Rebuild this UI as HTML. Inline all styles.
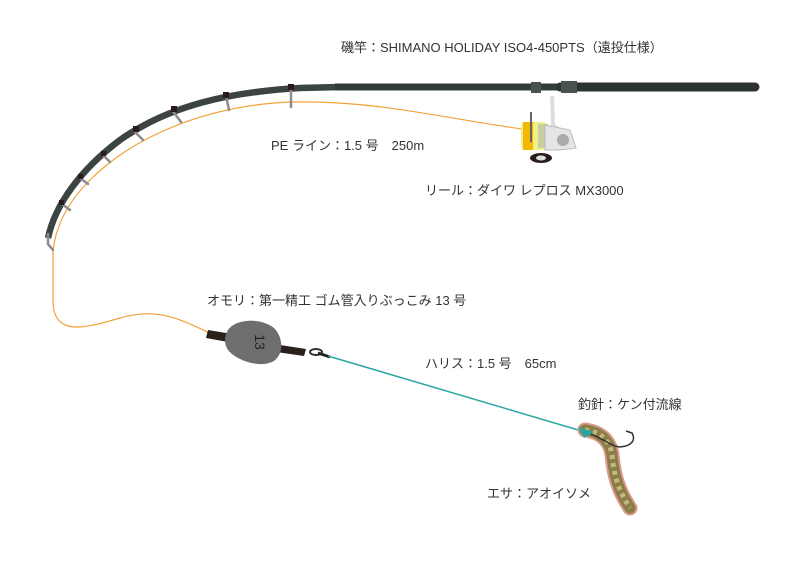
<!DOCTYPE html>
<html><head><meta charset="utf-8"><style>
html,body{margin:0;padding:0;background:#fff;}
svg{display:block}
text{font-family:"Liberation Sans","Noto Sans CJK JP",sans-serif;font-size:13px;fill:#333;}
</style></head><body>
<svg width="800" height="566" viewBox="0 0 800 566" xmlns="http://www.w3.org/2000/svg">
<!-- orange line -->
<path d="M530,130 C450,120 380,100 290,102 C200,106 130,140 90,180 C65,205 55,230 53,252 L53,300 C53,335 80,330 120,318 C160,306 185,322 212,334" fill="none" stroke="#f3a23a" stroke-width="1.2"/>
<!-- rod -->
<path d="M48,238 C55,205 80,170 120,140 C170,105 230,92 300,88 L340,87" fill="none" stroke="#3c4442" stroke-width="6.5"/>
<path d="M335,87 L755,87" fill="none" stroke="#343c39" stroke-width="7"/>
<path d="M560,87 L755,87" fill="none" stroke="#2c3431" stroke-width="9" stroke-linecap="round"/>
<rect x="531" y="82" width="10" height="11" fill="#4a524f"/>
<rect x="561" y="81" width="16" height="12" fill="#4a524f"/>
<!-- guides -->
<g stroke="#8c8c8c" stroke-width="2.5" stroke-linecap="round">
<line x1="62" y1="204" x2="70" y2="210"/>
<line x1="80" y1="178" x2="88" y2="184"/>
<line x1="103" y1="155" x2="110" y2="162"/>
<line x1="134" y1="131" x2="143" y2="140"/>
<line x1="172" y1="110" x2="181" y2="122"/>
<line x1="226" y1="96" x2="229" y2="110"/>
<line x1="291" y1="88" x2="291" y2="107"/>
<path d="M48,234 L48,244 L53,250" fill="none"/>
</g>
<g fill="#2a1c1a">
<rect x="59" y="200" width="5" height="5"/>
<rect x="78" y="174" width="5" height="5"/>
<rect x="101" y="151" width="5" height="5"/>
<rect x="133" y="126" width="6" height="6"/>
<rect x="171" y="106" width="6" height="6"/>
<rect x="223" y="92" width="6" height="6"/>
<rect x="288" y="84" width="6" height="6"/>
</g>
<!-- reel -->
<path d="M552,96 L553,125 L570,140" fill="none" stroke="#ddd" stroke-width="4"/>
<rect x="521" y="122" width="27" height="28" rx="5" fill="#eef08a"/>
<rect x="523" y="122" width="10" height="28" fill="#f5b800"/>
<rect x="538" y="124" width="10" height="24" fill="#c9cfa0"/>
<path d="M545,125 L570,130 L576,148 L560,150 L545,150 Z" fill="#e5e5e5" stroke="#bbb"/>
<circle cx="563" cy="140" r="6" fill="#aaa"/>
<line x1="531" y1="112" x2="531" y2="142" stroke="#666" stroke-width="2"/>
<ellipse cx="541" cy="158" rx="11" ry="5" fill="#2a1c1a"/>
<ellipse cx="541" cy="158" rx="5" ry="2.5" fill="#ddd"/>
<!-- weight -->
<path d="M208,330 L232,334 L280,345 L306,349 L304,356 L276,352 L228,342 L206,338 Z" fill="#2a201e"/>
<path d="M228,330 C236,318 262,318 274,328 C284,338 284,356 272,362 C258,368 236,360 228,350 C224,344 224,336 228,330 Z" fill="#6e6e6e"/>
<text x="255" y="342" transform="rotate(90 255 342)" style="font-size:14px;fill:#222" text-anchor="middle">13</text>
<ellipse cx="316" cy="352" rx="6" ry="3" fill="none" stroke="#333" stroke-width="2"/>
<line x1="318" y1="353" x2="330" y2="357" stroke="#222" stroke-width="3"/>
<!-- leader -->
<line x1="328" y1="356" x2="585" y2="432" stroke="#2aa5a0" stroke-width="1.5"/>
<!-- worm -->
<path d="M585,430 C600,432 610,440 612,455 C614,475 618,490 630,508" fill="none" stroke="#d99a88" stroke-width="15" stroke-linecap="round" stroke-dasharray="1 2"/>
<path d="M585,430 C600,432 610,440 612,455 C614,475 618,490 630,508" fill="none" stroke="#8b7d48" stroke-width="11" stroke-linecap="round"/>
<path d="M585,430 C600,432 610,440 612,455 C614,475 618,490 630,508" fill="none" stroke="#c4b880" stroke-width="5" stroke-dasharray="4 4"/>
<path d="M585,432 C600,436 610,446 620,447 C632,446 636,440 632,433 L626,431" fill="none" stroke="#333" stroke-width="1.5"/>
<path d="M578,427 L594,432 L584,438 Z" fill="#2aa5a0"/>
<!-- labels -->
<text x="341" y="52">磯竿：SHIMANO HOLIDAY ISO4-450PTS（遠投仕様）</text>
<text x="271" y="150">PE ライン：1.5 号　250m</text>
<text x="425" y="195">リール：ダイワ レプロス MX3000</text>
<text x="207" y="305">オモリ：第一精工 ゴム管入りぶっこみ 13 号</text>
<text x="425" y="368">ハリス：1.5 号　65cm</text>
<text x="578" y="409">釣針：ケン付流線</text>
<text x="487" y="498">エサ：アオイソメ</text>
</svg>
</body></html>
